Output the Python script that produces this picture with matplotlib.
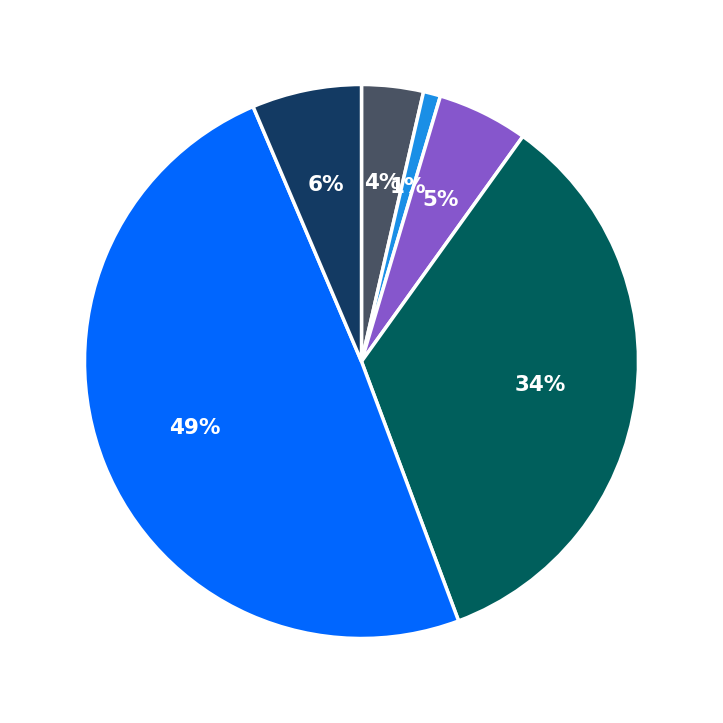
import matplotlib
matplotlib.use("Agg")
import matplotlib.pyplot as plt

values = [3.6, 1.0, 5.3, 34.4, 49.3, 6.4]
colors = ["#4a5363", "#1a8fe6", "#8656cc", "#005f5c", "#0066ff", "#133a63"]

fig = plt.figure(figsize=(7.23, 7.23), dpi=100)
ax = fig.add_axes([0, 0, 1, 1])
wedges, texts, autotexts = ax.pie(
    values, colors=colors, startangle=90, counterclock=False,
    autopct="%.0f%%", pctdistance=0.65, radius=1.0,
    wedgeprops=dict(edgecolor="white", linewidth=2.5),
    textprops=dict(color="white", fontsize=15.5, fontweight="bold"),
)
ax.set_xlim(-1.305, 1.305)
ax.set_ylim(-1.305, 1.305)
ax.set_aspect("equal")
ax.axis("off")
fig.savefig("out.png", dpi=100)
